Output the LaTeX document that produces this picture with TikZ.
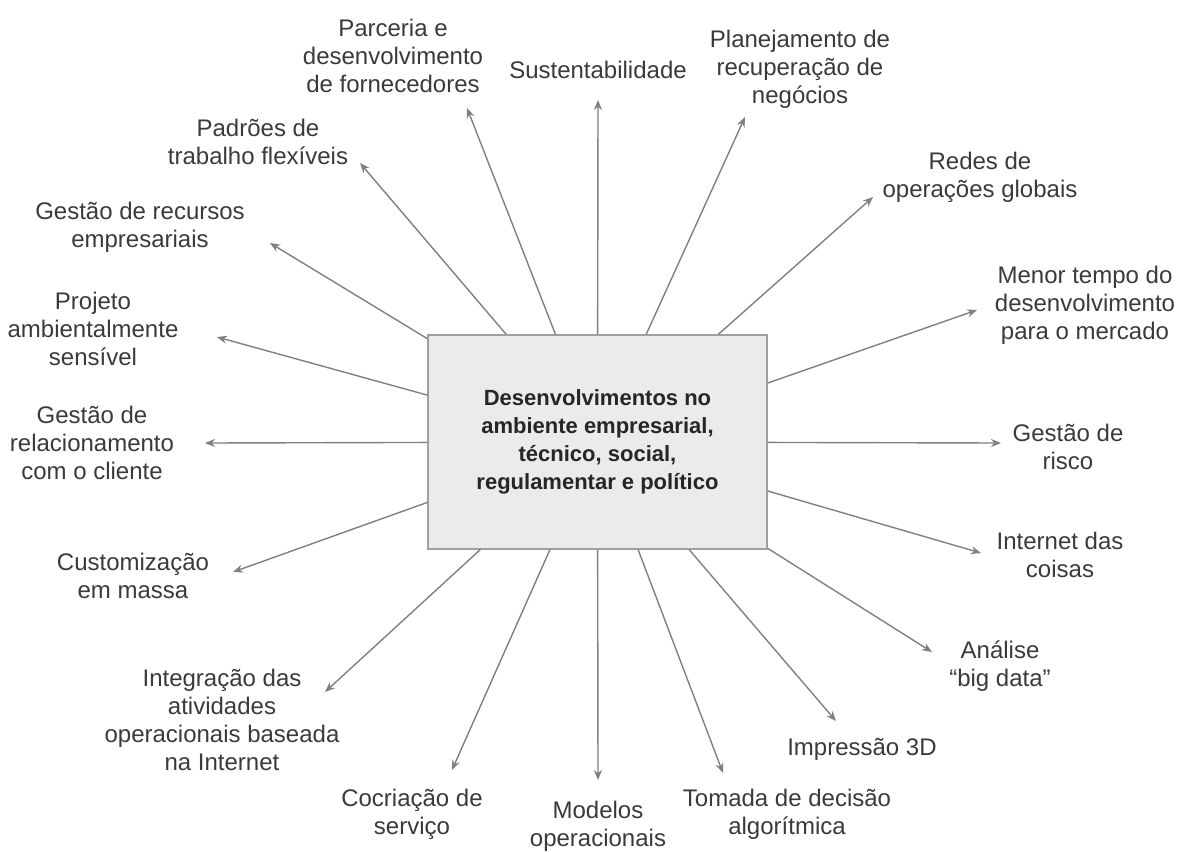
\documentclass[tikz,border=0pt]{standalone}
\usepackage{fontspec}
\setmainfont{Liberation Sans}
\usetikzlibrary{arrows.meta,positioning}

\definecolor{txtgray}{HTML}{3A3A3A}
\definecolor{arrgray}{HTML}{808080}
\definecolor{boxfill}{HTML}{EBEBEB}
\definecolor{boxline}{HTML}{A0A0A0}

\begin{document}
\begin{tikzpicture}[x=1pt, y=-1pt,
  lbl/.style={align=center, inner sep=0pt, text=txtgray, font=\fontsize{24}{28}\selectfont},
  arr/.style={draw=arrgray, line width=1.4pt, -{Stealth[length=10pt,width=8pt]}}]
\useasboundingbox (0,0) rectangle (1179,852);

% central box
\node (box) [draw=boxline, fill=boxfill, line width=1.2pt, minimum width=339pt, minimum height=214pt,
  align=center, font=\bfseries\fontsize{22}{28}\selectfont, text=black!85] at (597.5,442)
  {Desenvolvimentos no\\ambiente empresarial,\\técnico, social,\\regulamentar e político};

% labels
\node (sust) [lbl] at (598,70) {Sustentabilidade};
\node (parc) [lbl] at (393,56) {Parceria e\\desenvolvimento\\de fornecedores};
\node (padr) [lbl] at (258,142) {Padrões de\\trabalho flexíveis};
\node (recu) [lbl] at (140,227) {Gestão de recursos\\empresariais};
\node (proj) [lbl] at (93,329) {Projeto\\ambientalmente\\sensível};
\node (rela) [lbl] at (92,443) {Gestão de\\relacionamento\\com o cliente};
\node (cust) [lbl] at (133,576) {Customização\\em massa};
\node (inte) [lbl] at (222,720) {Integração das\\atividades\\operacionais baseada\\na Internet};
\node (cocr) [lbl] at (412,814) {Cocriação de\\serviço};
\node (mode) [lbl] at (598,826) {Modelos\\operacionais};
\node (toma) [lbl] at (787,814) {Tomada de decisão\\algorítmica};
\node (impr) [lbl] at (862,749) {Impressão 3D};
\node (anal) [lbl] at (1000,666) {Análise\\“big data”};
\node (inet) [lbl] at (1060,555) {Internet das\\coisas};
\node (risc) [lbl] at (1068,447) {Gestão de\\risco};
\node (meno) [lbl] at (1085,305) {Menor tempo do\\desenvolvimento\\para o mercado};
\node (rede) [lbl] at (980,177) {Redes de\\operações globais};
\node (plan) [lbl] at (800,69) {Planejamento de\\recuperação de\\negócios};

% arrow tips
\coordinate (t-sust) at (598,100);
\coordinate (t-parc) at (467,108);
\coordinate (t-padr) at (360,163);
\coordinate (t-recu) at (270,243);
\coordinate (t-proj) at (217,337);
\coordinate (t-rela) at (205,443);
\coordinate (t-cust) at (233,572);
\coordinate (t-inte) at (325,692);
\coordinate (t-cocr) at (452,770);
\coordinate (t-mode) at (598,780);
\coordinate (t-toma) at (723,773);
\coordinate (t-impr) at (836,721);
\coordinate (t-anal) at (932,652);
\coordinate (t-inet) at (981,553);
\coordinate (t-risc) at (1001,443);
\coordinate (t-meno) at (977,310);
\coordinate (t-rede) at (873,197);
\coordinate (t-plan) at (745,117);

\foreach \t in {sust,parc,padr,recu,proj,rela,cust,inte,cocr,mode,toma,impr,anal,inet,risc,meno,rede,plan}
  \draw[arr] (box) -- (t-\t);
\end{tikzpicture}
\end{document}
